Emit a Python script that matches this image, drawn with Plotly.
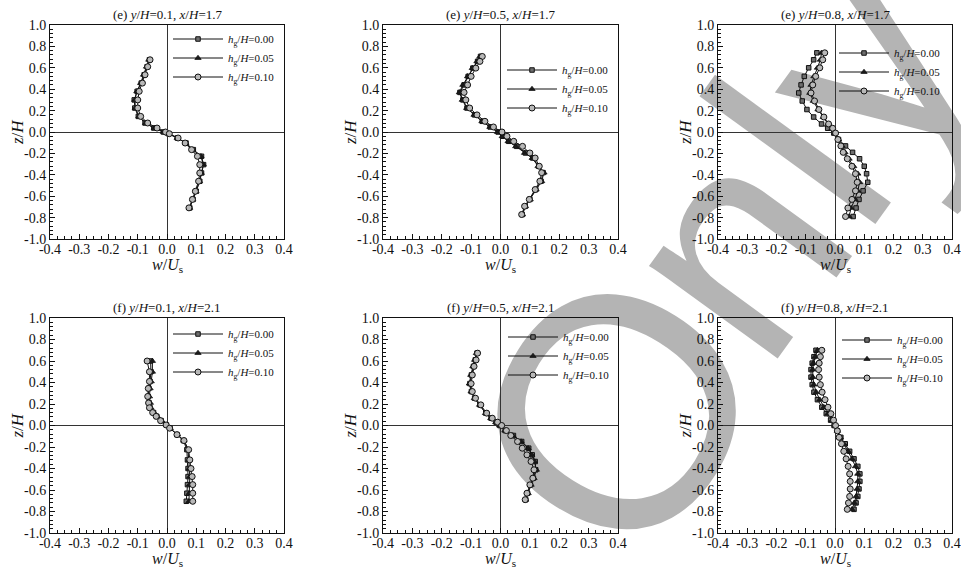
import plotly.graph_objects as go

# ---------------- tick labels ----------------
W_TICKS = [-0.4, -0.3, -0.2, -0.1, 0.0, 0.1, 0.2, 0.3, 0.4]
W_TICK_LABELS = ["-0.4", "-0.3", "-0.2", "-0.1", "0.0", "0.1", "0.2", "0.3", "0.4"]
Z_TICKS = [1.0, 0.8, 0.6, 0.4, 0.2, 0.0, -0.2, -0.4, -0.6, -0.8, -1.0]
Z_TICK_LABELS = ["1.0", "0.8", "0.6", "0.4", "0.2", "0.0", "-0.2", "-0.4", "-0.6", "-0.8", "-1.0"]

X_TITLE = "<i>w</i>/<i>U</i><sub>s</sub>"
Y_TITLE = "<i>z</i>/<i>H</i>"

SERIES_NAMES = ["<i>h</i><sub>g</sub>/<i>H</i>=0.00",
                "<i>h</i><sub>g</sub>/<i>H</i>=0.05",
                "<i>h</i><sub>g</sub>/<i>H</i>=0.10"]

PANEL_TITLES = ["(e) <i>y</i>/<i>H</i>=0.1, <i>x</i>/<i>H</i>=1.7",
                "(e) <i>y</i>/<i>H</i>=0.5, <i>x</i>/<i>H</i>=1.7",
                "(e) <i>y</i>/<i>H</i>=0.8, <i>x</i>/<i>H</i>=1.7",
                "(f) <i>y</i>/<i>H</i>=0.1, <i>x</i>/<i>H</i>=2.1",
                "(f) <i>y</i>/<i>H</i>=0.5, <i>x</i>/<i>H</i>=2.1",
                "(f) <i>y</i>/<i>H</i>=0.8, <i>x</i>/<i>H</i>=2.1"]

# ---------------- data: panel (e) y/H=0.1 ----------------
Z_E1 = [0.675, 0.61, 0.535, 0.457, 0.38, 0.30, 0.224, 0.146, 0.084, 0.037, 0.0,
        -0.016, -0.056, -0.103, -0.165, -0.227, -0.305, -0.383, -0.46, -0.554, -0.63, -0.709]
W_E1_00 = [-0.060, -0.068, -0.078, -0.088, -0.102, -0.112, -0.110, -0.098, -0.075, -0.045, -0.012,
           0.005, 0.035, 0.065, 0.090, 0.118, 0.125, 0.118, 0.112, 0.100, 0.089, 0.078]
W_E1_05 = [-0.062, -0.070, -0.080, -0.090, -0.103, -0.110, -0.108, -0.096, -0.073, -0.043, -0.012,
           0.005, 0.035, 0.064, 0.088, 0.116, 0.124, 0.117, 0.111, 0.099, 0.088, 0.077]
W_E1_10 = [-0.058, -0.066, -0.075, -0.084, -0.095, -0.100, -0.100, -0.090, -0.066, -0.034, -0.005,
           0.008, 0.038, 0.062, 0.084, 0.104, 0.112, 0.112, 0.108, 0.097, 0.087, 0.075]

# ---------------- data: panel (e) y/H=0.5 ----------------
Z_E2 = [0.706, 0.66, 0.597, 0.52, 0.44, 0.37, 0.30, 0.224, 0.16, 0.10, 0.047, 0.0,
        -0.04, -0.087, -0.134, -0.196, -0.243, -0.32, -0.38, -0.46, -0.538, -0.63, -0.694, -0.771]
W_E2_00 = [-0.068, -0.078, -0.094, -0.110, -0.124, -0.138, -0.128, -0.114, -0.088, -0.062, -0.035, -0.008,
           0.008, 0.028, 0.055, 0.085, 0.110, 0.130, 0.145, 0.138, 0.120, 0.100, 0.084, 0.074]
W_E2_05 = [-0.070, -0.080, -0.096, -0.112, -0.128, -0.140, -0.130, -0.115, -0.090, -0.063, -0.036, -0.010,
           0.006, 0.026, 0.052, 0.082, 0.108, 0.128, 0.148, 0.140, 0.121, 0.101, 0.085, 0.075]
W_E2_10 = [-0.062, -0.070, -0.084, -0.100, -0.112, -0.124, -0.118, -0.105, -0.080, -0.053, -0.024, 0.005,
           0.022, 0.045, 0.075, 0.100, 0.118, 0.132, 0.140, 0.134, 0.118, 0.098, 0.082, 0.072]

# ---------------- data: panel (e) y/H=0.8 ----------------
Z_E3 = [0.74, 0.675, 0.6, 0.52, 0.44, 0.365, 0.29, 0.21, 0.14, 0.075, 0.035, -0.01,
        -0.07, -0.13, -0.19, -0.25, -0.32, -0.39, -0.47, -0.55, -0.63, -0.71, -0.79]
W_E3_00 = [-0.062, -0.073, -0.090, -0.105, -0.116, -0.124, -0.112, -0.096, -0.073, -0.046, -0.025, -0.004,
           0.012, 0.036, 0.060, 0.084, 0.100, 0.108, 0.112, 0.096, 0.082, 0.072, 0.062]
W_E3_05 = [-0.046, -0.050, -0.060, -0.072, -0.082, -0.086, -0.074, -0.058, -0.040, -0.024, -0.010, 0.000,
           0.012, 0.024, 0.034, 0.048, 0.064, 0.078, 0.084, 0.078, 0.068, 0.055, 0.048]
W_E3_10 = [-0.035, -0.042, -0.052, -0.066, -0.076, -0.082, -0.070, -0.055, -0.038, -0.022, -0.008, 0.002,
           0.010, 0.020, 0.028, 0.042, 0.058, 0.070, 0.076, 0.070, 0.058, 0.044, 0.036]

# ---------------- data: panel (f) y/H=0.1 ----------------
Z_F1 = [0.6, 0.5, 0.41, 0.345, 0.27, 0.21, 0.165, 0.12, 0.085, 0.045, 0.005,
        -0.025, -0.085, -0.14, -0.225, -0.32, -0.4, -0.475, -0.55, -0.63, -0.705]
W_F1_00 = [-0.056, -0.055, -0.058, -0.062, -0.064, -0.061, -0.058, -0.046, -0.035, -0.020, -0.002,
           0.010, 0.034, 0.056, 0.068, 0.070, 0.072, 0.072, 0.070, 0.068, 0.066]
W_F1_05 = [-0.050, -0.050, -0.054, -0.058, -0.060, -0.057, -0.055, -0.044, -0.033, -0.018, -0.001,
           0.011, 0.036, 0.058, 0.072, 0.075, 0.076, 0.078, 0.077, 0.076, 0.075]
W_F1_10 = [-0.068, -0.060, -0.060, -0.064, -0.066, -0.063, -0.060, -0.049, -0.037, -0.022, -0.003,
           0.009, 0.034, 0.058, 0.074, 0.078, 0.082, 0.086, 0.088, 0.088, 0.088]

# ---------------- data: panel (f) y/H=0.5 ----------------
Z_F2 = [0.673, 0.61, 0.55, 0.47, 0.39, 0.316, 0.254, 0.192, 0.115, 0.068, 0.031, 0.0,
        -0.047, -0.093, -0.149, -0.211, -0.273, -0.335, -0.412, -0.49, -0.552, -0.63, -0.69]
W_F2_00 = [-0.080, -0.086, -0.092, -0.099, -0.104, -0.099, -0.088, -0.070, -0.050, -0.032, -0.015, -0.002,
           0.016, 0.044, 0.072, 0.096, 0.108, 0.118, 0.120, 0.112, 0.102, 0.092, 0.086]
W_F2_05 = [-0.082, -0.088, -0.094, -0.101, -0.106, -0.100, -0.089, -0.071, -0.051, -0.033, -0.016, -0.003,
           0.015, 0.042, 0.070, 0.094, 0.106, 0.116, 0.122, 0.114, 0.104, 0.094, 0.086]
W_F2_10 = [-0.078, -0.083, -0.090, -0.096, -0.100, -0.096, -0.085, -0.067, -0.047, -0.028, -0.010, 0.004,
           0.020, 0.035, 0.058, 0.074, 0.090, 0.104, 0.114, 0.110, 0.100, 0.090, 0.084]

# ---------------- data: panel (f) y/H=0.8 ----------------
Z_F3 = [0.70, 0.64, 0.58, 0.52, 0.45, 0.38, 0.31, 0.24, 0.17, 0.11, 0.05, 0.0,
        -0.05, -0.11, -0.17, -0.24, -0.31, -0.38, -0.45, -0.52, -0.59, -0.66, -0.72, -0.78]
W_F3_00 = [-0.065, -0.072, -0.078, -0.082, -0.082, -0.078, -0.072, -0.060, -0.045, -0.030, -0.015, -0.003,
           0.008, 0.020, 0.035, 0.050, 0.065, 0.078, 0.085, 0.085, 0.082, 0.078, 0.072, 0.065]
W_F3_05 = [-0.060, -0.068, -0.074, -0.076, -0.076, -0.072, -0.064, -0.052, -0.038, -0.024, -0.010, 0.000,
           0.008, 0.018, 0.030, 0.045, 0.058, 0.070, 0.078, 0.078, 0.076, 0.072, 0.066, 0.058]
W_F3_10 = [-0.045, -0.050, -0.054, -0.056, -0.054, -0.050, -0.044, -0.034, -0.024, -0.014, -0.005, 0.002,
           0.008, 0.014, 0.022, 0.030, 0.038, 0.045, 0.050, 0.052, 0.052, 0.050, 0.046, 0.042]

PANELS = [
    (Z_E1, [W_E1_00, W_E1_05, W_E1_10]),
    (Z_E2, [W_E2_00, W_E2_05, W_E2_10]),
    (Z_E3, [W_E3_00, W_E3_05, W_E3_10]),
    (Z_F1, [W_F1_00, W_F1_05, W_F1_10]),
    (Z_F2, [W_F2_00, W_F2_05, W_F2_10]),
    (Z_F3, [W_F3_00, W_F3_05, W_F3_10]),
]

# ---------------- layout geometry ----------------
FIG_W, FIG_H = 961, 569
COL_PX = [(50, 284), (383, 618), (718, 952)]
ROW_PX = [(25, 239), (318, 533)]
# legend anchor: (x of line start, y of middle row) in pixels
LEGEND_PX = [(168, 58), (502, 89), (834, 72), (168, 353), (503, 356), (837, 359)]

SERIF = "Liberation Serif"
MARKERS = [
    dict(symbol="square", size=4.5, color="#6e6e6e", line=dict(color="#111", width=1)),
    dict(symbol="triangle-up", size=5.5, color="#1a1a1a", line=dict(color="#111", width=0.8)),
    dict(symbol="circle", size=6, color="#b8b8b8", line=dict(color="#111", width=1)),
]

fig = go.Figure()
layout = {}
annotations = []

for i, (zvals, wseries) in enumerate(PANELS):
    r, c = divmod(i, 3)
    n = i + 1
    xs = "" if n == 1 else str(n)
    xa, ya = "xaxis" + xs, "yaxis" + xs
    x0, x1 = COL_PX[c]
    y0, y1 = ROW_PX[r]
    legname = "legend" if n == 1 else "legend" + str(n)
    for k, w in enumerate(wseries):
        fig.add_trace(go.Scatter(
            x=w, y=zvals, mode="lines+markers", name=SERIES_NAMES[k],
            line=dict(color="#111", width=1), marker=MARKERS[k],
            xaxis="x" + xs, yaxis="y" + xs, legend=legname, showlegend=True,
        ))
    axis_common = dict(
        showline=True, linecolor="#111", linewidth=1, mirror=True,
        ticks="inside", ticklen=5, tickwidth=1, tickcolor="#111",
        tickmode="array", showgrid=False,
        zeroline=True, zerolinecolor="#333", zerolinewidth=1,
        tickfont=dict(family=SERIF, size=14, color="#111"),
        automargin=False,
    )
    layout[xa] = dict(
        axis_common, domain=[x0 / FIG_W, x1 / FIG_W], range=[-0.4, 0.4],
        tickvals=W_TICKS, ticktext=W_TICK_LABELS, anchor="y" + xs,
        ticklabelstandoff=-3,
        minor=dict(tickmode="linear", tick0=0, dtick=0.025, ticks="inside",
                   ticklen=3, tickcolor="#111", showgrid=False),
    )
    layout[ya] = dict(
        axis_common, domain=[1 - y1 / FIG_H, 1 - y0 / FIG_H], range=[-1.0, 1.0],
        tickvals=Z_TICKS, ticktext=Z_TICK_LABELS, anchor="x" + xs,
        minor=dict(tickmode="linear", tick0=0, dtick=0.04, ticks="inside",
                   ticklen=3, tickcolor="#111", showgrid=False),
    )
    lx, ly = LEGEND_PX[i]
    layout[legname] = dict(
        x=lx / FIG_W, y=1 - ly / FIG_H, xanchor="left", yanchor="middle",
        bgcolor="rgba(0,0,0,0)", borderwidth=0, itemwidth=50,
        font=dict(family=SERIF, size=11, color="#111"), tracegroupgap=0,
    )
    # panel title
    annotations.append(dict(
        text=PANEL_TITLES[i], xref="paper", yref="paper",
        x=(x0 + x1) / 2 / FIG_W, y=1 - (y0 - 1) / FIG_H,
        xanchor="center", yanchor="bottom", showarrow=False,
        font=dict(family=SERIF, size=13, color="#111"),
    ))
    # x-axis title
    annotations.append(dict(
        text=X_TITLE, xref="paper", yref="paper",
        x=(x0 + x1) / 2 / FIG_W, y=1 - (y1 + 26) / FIG_H,
        xanchor="center", yanchor="middle", showarrow=False,
        font=dict(family=SERIF, size=16, color="#111"),
    ))
    # y-axis title
    annotations.append(dict(
        text=Y_TITLE, xref="paper", yref="paper", textangle=-90,
        x=(x0 - 33) / FIG_W, y=1 - (y0 + y1) / 2 / FIG_H,
        xanchor="center", yanchor="middle", showarrow=False,
        font=dict(family=SERIF, size=17, color="#111"),
    ))


def watermark_piece(text, cx, cy, size, angle):
    """Grey background watermark text centred at pixel (cx, cy), drawn below the data."""
    return dict(
        type="rect", xref="paper", yref="paper",
        x0=(cx - 4) / FIG_W, x1=(cx + 4) / FIG_W,
        y0=1 - (cy + 4) / FIG_H, y1=1 - (cy - 4) / FIG_H,
        line=dict(width=0), fillcolor="rgba(0,0,0,0)", layer="below",
        label=dict(text=text, textangle=angle, textposition="middle center",
                   font=dict(family="Liberation Sans", size=size, color="#b4b4b4")),
    )


shapes = [
    watermark_piece("O", 590, 395, 330, -58),
    watermark_piece("nly", 772, 143, 300, -54),
]

fig.update_layout(
    **layout,
    annotations=annotations,
    shapes=shapes,
    width=FIG_W, height=FIG_H,
    margin=dict(l=0, r=0, t=0, b=0),
    paper_bgcolor="white", plot_bgcolor="white",
    font=dict(family=SERIF, color="#111"),
    showlegend=True,
)

fig.write_html("out.html", config={"displayModeBar": False},
               post_script="document.body.style.margin='0';")
